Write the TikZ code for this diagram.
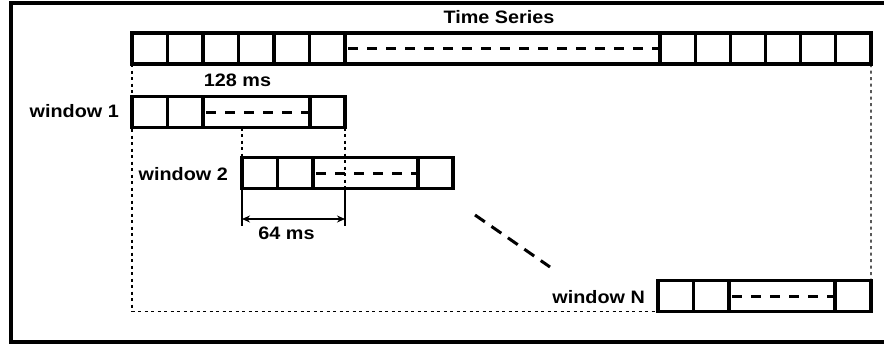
\documentclass[tikz,border=0pt]{standalone}
\usepackage{fontspec}
\setmainfont[FakeStretch=1.1]{Liberation Sans}
\usetikzlibrary{arrows.meta}
\newcommand\mkcell[4]{\node[cell, minimum width={#3-#2}] (#1) at (#2,#4) {};}
\begin{document}
\begin{tikzpicture}[x=1pt,y=-1pt,
  cell/.style={draw, line width=3.1pt, minimum height=31pt, inner sep=0pt, outer sep=0pt, anchor=west},
  gap/.style={line width=3pt, dash pattern=on 9.5pt off 9.5pt},
  guide/.style={line width=1.4pt, dash pattern=on 3pt off 3.5pt},
  ext/.style={line width=1.7pt},
  lbl/.style={inner sep=0pt, font=\fontsize{18}{21}\selectfont\bfseries}]
\fill[white] (0,0) rectangle (884,346);
\useasboundingbox (0,0) rectangle (884,346);
\draw[line width=3.4pt] (11,3) rectangle (890,342);
% time series
\mkcell{t1}{132}{167.5}{48.5}
\mkcell{t2}{167.5}{203}{48.5}
\mkcell{t3}{203}{238.5}{48.5}
\mkcell{t4}{238.5}{274}{48.5}
\mkcell{t5}{274}{309.5}{48.5}
\mkcell{t6}{309.5}{345}{48.5}
\mkcell{td}{345}{660}{48.5}
\mkcell{t7}{660}{695.2}{48.5}
\mkcell{t8}{695.2}{730.3}{48.5}
\mkcell{t9}{730.3}{765.5}{48.5}
\mkcell{t10}{765.5}{800.7}{48.5}
\mkcell{t11}{800.7}{835.8}{48.5}
\mkcell{t12}{835.8}{871}{48.5}
% window 1
\mkcell{a1}{132}{167.5}{112}
\mkcell{a2}{167.5}{203}{112}
\mkcell{ad}{203}{310}{112}
\mkcell{a4}{310}{345}{112}
% window 2
\mkcell{b1}{242}{277.5}{173}
\mkcell{b2}{277.5}{313}{173}
\mkcell{bd}{313}{418}{173}
\mkcell{b4}{418}{453}{173}
% window N
\mkcell{n1}{658}{693.5}{296}
\mkcell{n2}{693.5}{729}{296}
\mkcell{nd}{729}{835}{296}
\mkcell{n4}{835}{871}{296}
% dashes inside cells
\draw[gap] ([xshift=3pt]td.west) -- ([xshift=-2pt]td.east);
\draw[gap] ([xshift=3pt]ad.west) -- ([xshift=-2pt]ad.east);
\draw[gap] ([xshift=3pt]bd.west) -- ([xshift=-2pt]bd.east);
\draw[gap] ([xshift=3pt]nd.west) -- ([xshift=-2pt]nd.east);
% labels
\node[lbl, anchor=base] (ts) at (499,23) {Time Series};
\node[lbl, anchor=base] (l128) at (237.5,86) {128 ms};
\node[lbl, anchor=base east] (lw1) at (119,117.5) {window 1};
\node[lbl, anchor=base east] (lw2) at (228,180) {window 2};
\node[lbl, anchor=base east] (lwN) at (645,303) {window N};
\node[lbl, anchor=base] (l64) at (286.5,239) {64 ms};
% guides
\draw[guide] (t1.south west) |- (n1.south west);
\draw[guide] (t12.south east) -- (n4.north east);
\draw[guide] (b1.north west |- a1.south) -- (b1.north west);
\coordinate (c64) at (a4.south east |- b4.south);
\draw[guide] (a4.south east) -- (c64);
% dimension
\coordinate (ay) at (0,219);
\draw[ext] (b1.south west) -- ++(0,37);
\draw[ext] (c64) -- ++(0,37);
\draw[ext, {Stealth[length=8pt,width=7pt]}-{Stealth[length=8pt,width=7pt]}] (b1.south west |- ay) -- (c64 |- ay);
% ellipsis
\coordinate (e1) at (475,215);
\coordinate (e2) at (550,267);
\draw[line width=3pt, dash pattern=on 12pt off 8pt] (e1) -- (e2);
\end{tikzpicture}
\end{document}
